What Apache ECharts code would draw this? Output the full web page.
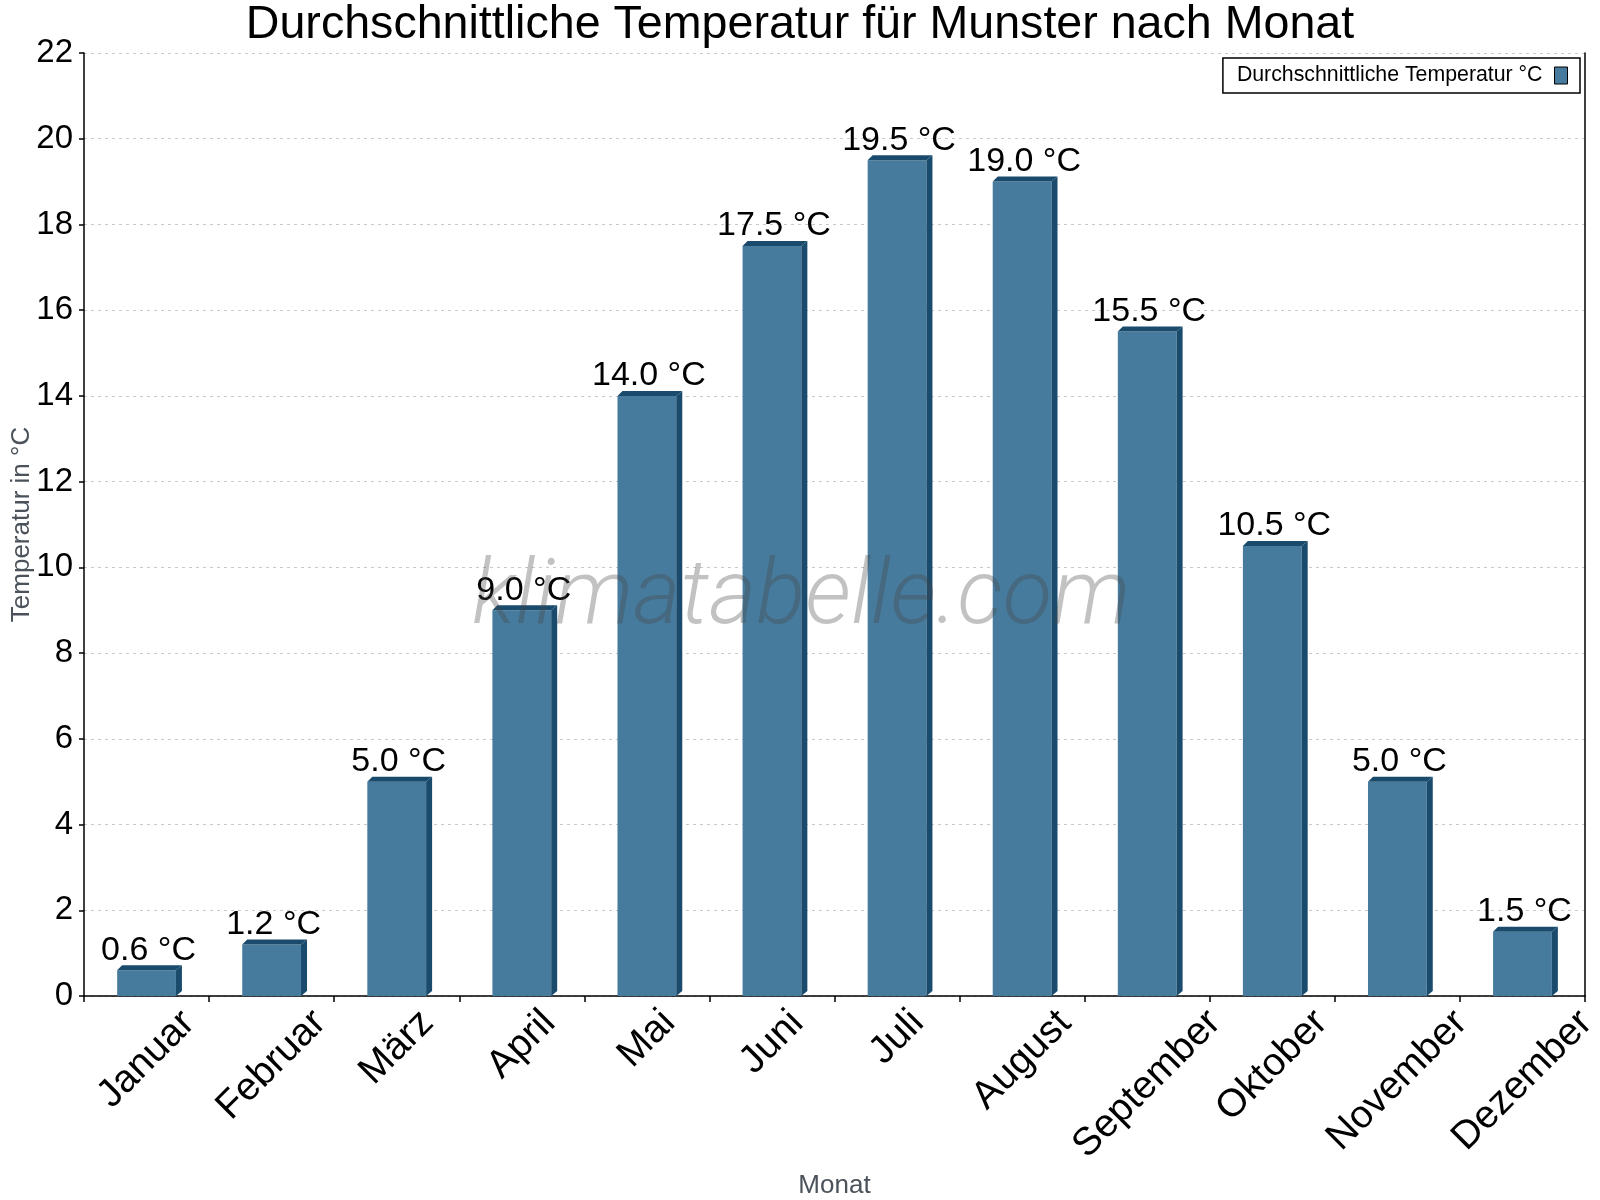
<!DOCTYPE html>
<html>
<head>
<meta charset="utf-8">
<script src="https://cdn.jsdelivr.net/npm/echarts@6/dist/echarts.min.js"></script>
<style>html,body{margin:0;padding:0;background:#fff}#c{width:1600px;height:1200px}</style>
</head>
<body>
<div id="c"></div>
<script>
const months = ['Januar','Februar','März','April','Mai','Juni','Juli','August','September','Oktober','November','Dezember'];
const temps = [0.6, 1.2, 5.0, 9.0, 14.0, 17.5, 19.5, 19.0, 15.5, 10.5, 5.0, 1.5];
const yTicks = [0, 22, 2];
const seriesName = 'Durchschnittliche Temperatur °C';
const titleText = 'Durchschnittliche Temperatur für Munster nach Monat';

const FONT = '"Liberation Sans", Arial, sans-serif';
const FRONT = '#467b9d';
const DARK = '#1a4b6c';
const XL_SIZE = 39;

// rotated labels are centred under each bar with their top edge at a fixed
// distance from the axis: shift each label by an amount tied to its width
const ctx = document.createElement('canvas').getContext('2d');
ctx.font = XL_SIZE + 'px ' + FONT;
const xCats = months.map(m => {
  const L = Math.max(1, Math.round(ctx.measureText(m).width / 2));
  return {value: m, textStyle: {align: 'center', verticalAlign: 'middle', lineHeight: L, padding: [0, L, 0, 0]}};
});

const chart = echarts.init(document.getElementById('c'), null, {renderer: 'canvas'});
const data = temps.map((v, i) => [i, v]);

function renderItem(params, api) {
  const x = api.value(0), v = api.value(1);
  const p = api.coord([x, v]);
  const p0 = api.coord([x, 0]);
  const w = api.size([1, 0])[0] * 0.47;
  const d = 6, h = 5;
  const l = p[0] - w / 2, r = p[0] + w / 2, top = p[1], bot = p0[1];
  return {
    type: 'group',
    children: [
      {type: 'rect', shape: {x: l, y: top, width: w, height: bot - top}, style: {fill: FRONT}},
      {type: 'polygon', shape: {points: [[l, top], [l + d - 1, top - h], [r + d, top - h], [r, top]]}, style: {fill: DARK}},
      {type: 'polygon', shape: {points: [[r, top], [r + d, top - h], [r + d, bot - h], [r, bot]]}, style: {fill: DARK}},
      {type: 'text', style: {text: v.toFixed(1) + ' °C', x: p[0] + 2, y: top - h + 2, align: 'center', verticalAlign: 'bottom', font: '34px ' + FONT, fill: '#000'}}
    ]
  };
}

chart.setOption({
  animation: false,
  backgroundColor: '#fff',
  title: {
    text: titleText, left: 'center', top: -3,
    textStyle: {fontFamily: FONT, fontSize: 46.6, fontWeight: 'normal', color: '#000'}
  },
  legend: {
    right: 20, top: 58, orient: 'horizontal', align: 'right',
    padding: [7, 12, 7, 14], borderColor: '#000', borderWidth: 1.5, borderRadius: 0,
    itemWidth: 13, itemHeight: 17, itemGap: 10,
    textStyle: {fontFamily: FONT, fontSize: 21.3, color: '#000', padding: [0, 7, 0, 0]},
    data: [{name: seriesName, icon: 'rect', itemStyle: {color: FRONT, borderColor: '#000', borderWidth: 1}}]
  },
  grid: {left: 84, right: 15, top: 53, bottom: 204, containLabel: false, outerBoundsMode: 'none'},
  xAxis: {
    type: 'category', data: xCats, boundaryGap: true,
    name: 'Monat', nameLocation: 'middle', nameGap: 177, nameMoveOverlap: false,
    nameTextStyle: {fontFamily: FONT, fontSize: 26, color: '#4b525a'},
    axisLine: {show: true, lineStyle: {color: '#000', width: 1.5}},
    axisTick: {show: true, length: 6, alignWithLabel: false, lineStyle: {color: '#000', width: 1.5}},
    splitLine: {show: false},
    axisLabel: {
      rotate: 45, interval: 0, hideOverlap: false, margin: 21,
      align: 'center', verticalAlign: 'middle',
      fontFamily: FONT, fontSize: XL_SIZE, color: '#000',
      formatter: v => '\n' + v
    }
  },
  yAxis: [{
    type: 'value', min: yTicks[0], max: yTicks[1], interval: yTicks[2],
    name: 'Temperatur in °C', nameLocation: 'middle', nameGap: 49, nameMoveOverlap: false,
    nameTextStyle: {fontFamily: FONT, fontSize: 26, color: '#4b525a'},
    axisLine: {show: true, lineStyle: {color: '#000', width: 1.5}},
    axisTick: {show: true, length: 5, lineStyle: {color: '#000', width: 1.5}},
    axisLabel: {margin: 11, fontFamily: FONT, fontSize: 33, color: '#000'},
    splitLine: {show: true, lineStyle: {color: '#c8c8c8', type: [3, 4], width: 1}}
  }, {
    type: 'value', position: 'right', min: yTicks[0], max: yTicks[1], interval: yTicks[2],
    axisLine: {show: true, lineStyle: {color: '#000', width: 1.5}},
    axisTick: {show: false}, axisLabel: {show: false}, splitLine: {show: false}
  }],
  graphic: [{
    type: 'text', z: 100, left: 472, top: 555,
    style: {text: 'klimatabelle.com', font: 'italic 300 91px Roboto, sans-serif', fill: 'rgba(70,70,70,0.33)'}
  }],
  series: [{
    type: 'custom', name: seriesName, renderItem: renderItem, data: data,
    itemStyle: {color: FRONT}, clip: false
  }]
});
</script>
</body>
</html>
